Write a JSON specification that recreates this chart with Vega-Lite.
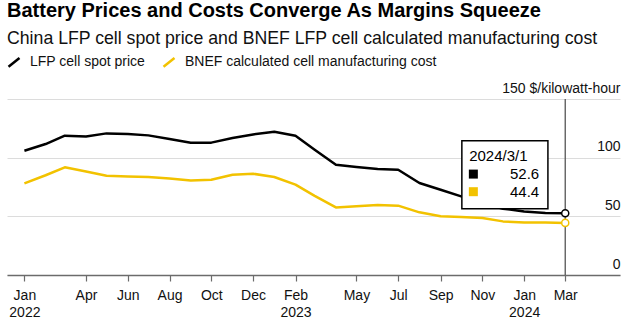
{
  "$schema": "https://vega.github.io/schema/vega-lite/v6.json",
  "width": 613,
  "height": 176,
  "autosize": {"type": "none"},
  "padding": {"left": 7, "top": 99, "right": 10, "bottom": 55},
  "background": "white",
  "title": {
    "text": "Battery Prices and Costs Converge As Margins Squeeze",
    "subtitle": "China LFP cell spot price and BNEF LFP cell calculated manufacturing cost",
    "anchor": "start",
    "frame": "group",
    "font": "Liberation Sans",
    "fontSize": 20,
    "fontWeight": "bold",
    "color": "#000000",
    "subtitleFont": "Liberation Sans",
    "subtitleFontSize": 17.7,
    "subtitleColor": "#111111",
    "subtitlePadding": 9,
    "offset": 7
  },
  "config": {"view": {"stroke": null}, "font": "Liberation Sans"},
  "datasets": {
    "prices": [
      {"date": "2022-01-01", "series": "LFP cell spot price", "value": 105.9},
      {"date": "2022-02-01", "series": "LFP cell spot price", "value": 111.6},
      {"date": "2022-03-01", "series": "LFP cell spot price", "value": 118.7},
      {"date": "2022-04-01", "series": "LFP cell spot price", "value": 118.1},
      {"date": "2022-05-01", "series": "LFP cell spot price", "value": 120.7},
      {"date": "2022-06-01", "series": "LFP cell spot price", "value": 120.2},
      {"date": "2022-07-01", "series": "LFP cell spot price", "value": 119.0},
      {"date": "2022-08-01", "series": "LFP cell spot price", "value": 115.9},
      {"date": "2022-09-01", "series": "LFP cell spot price", "value": 112.8},
      {"date": "2022-10-01", "series": "LFP cell spot price", "value": 112.8},
      {"date": "2022-11-01", "series": "LFP cell spot price", "value": 116.8},
      {"date": "2022-12-01", "series": "LFP cell spot price", "value": 119.8},
      {"date": "2023-01-01", "series": "LFP cell spot price", "value": 122.1},
      {"date": "2023-02-01", "series": "LFP cell spot price", "value": 118.7},
      {"date": "2023-03-01", "series": "LFP cell spot price", "value": 106.8},
      {"date": "2023-04-01", "series": "LFP cell spot price", "value": 94.0},
      {"date": "2023-05-01", "series": "LFP cell spot price", "value": 92.0},
      {"date": "2023-06-01", "series": "LFP cell spot price", "value": 90.3},
      {"date": "2023-07-01", "series": "LFP cell spot price", "value": 89.7},
      {"date": "2023-08-01", "series": "LFP cell spot price", "value": 78.4},
      {"date": "2023-09-01", "series": "LFP cell spot price", "value": 72.7},
      {"date": "2023-10-01", "series": "LFP cell spot price", "value": 67.0},
      {"date": "2023-11-01", "series": "LFP cell spot price", "value": 61.5},
      {"date": "2023-12-01", "series": "LFP cell spot price", "value": 56.5},
      {"date": "2024-01-01", "series": "LFP cell spot price", "value": 54.2},
      {"date": "2024-02-01", "series": "LFP cell spot price", "value": 52.8},
      {"date": "2024-03-01", "series": "LFP cell spot price", "value": 52.6},
      {"date": "2022-01-01", "series": "BNEF calculated cell manufacturing cost", "value": 78.1},
      {"date": "2022-02-01", "series": "BNEF calculated cell manufacturing cost", "value": 85.0},
      {"date": "2022-03-01", "series": "BNEF calculated cell manufacturing cost", "value": 91.8},
      {"date": "2022-04-01", "series": "BNEF calculated cell manufacturing cost", "value": 88.2},
      {"date": "2022-05-01", "series": "BNEF calculated cell manufacturing cost", "value": 84.6},
      {"date": "2022-06-01", "series": "BNEF calculated cell manufacturing cost", "value": 84.0},
      {"date": "2022-07-01", "series": "BNEF calculated cell manufacturing cost", "value": 83.5},
      {"date": "2022-08-01", "series": "BNEF calculated cell manufacturing cost", "value": 82.3},
      {"date": "2022-09-01", "series": "BNEF calculated cell manufacturing cost", "value": 80.6},
      {"date": "2022-10-01", "series": "BNEF calculated cell manufacturing cost", "value": 81.2},
      {"date": "2022-11-01", "series": "BNEF calculated cell manufacturing cost", "value": 85.5},
      {"date": "2022-12-01", "series": "BNEF calculated cell manufacturing cost", "value": 86.3},
      {"date": "2023-01-01", "series": "BNEF calculated cell manufacturing cost", "value": 83.5},
      {"date": "2023-02-01", "series": "BNEF calculated cell manufacturing cost", "value": 77.0},
      {"date": "2023-03-01", "series": "BNEF calculated cell manufacturing cost", "value": 67.5},
      {"date": "2023-04-01", "series": "BNEF calculated cell manufacturing cost", "value": 57.6},
      {"date": "2023-05-01", "series": "BNEF calculated cell manufacturing cost", "value": 58.5},
      {"date": "2023-06-01", "series": "BNEF calculated cell manufacturing cost", "value": 59.7},
      {"date": "2023-07-01", "series": "BNEF calculated cell manufacturing cost", "value": 59.1},
      {"date": "2023-08-01", "series": "BNEF calculated cell manufacturing cost", "value": 53.4},
      {"date": "2023-09-01", "series": "BNEF calculated cell manufacturing cost", "value": 50.0},
      {"date": "2023-10-01", "series": "BNEF calculated cell manufacturing cost", "value": 49.4},
      {"date": "2023-11-01", "series": "BNEF calculated cell manufacturing cost", "value": 48.6},
      {"date": "2023-12-01", "series": "BNEF calculated cell manufacturing cost", "value": 45.7},
      {"date": "2024-01-01", "series": "BNEF calculated cell manufacturing cost", "value": 44.8},
      {"date": "2024-02-01", "series": "BNEF calculated cell manufacturing cost", "value": 44.8},
      {"date": "2024-03-01", "series": "BNEF calculated cell manufacturing cost", "value": 44.4}
    ]
  },
  "data": {"name": "prices"},
  "layer": [
    {
      "mark": {"type": "line", "strokeWidth": 2.5, "strokeJoin": "round"},
      "encoding": {
        "x": {
          "field": "date",
          "type": "temporal",
          "scale": {"domain": [{"year": 2021, "month": 12, "date": 6, "hours": 14}, {"year": 2024, "month": 5, "date": 20}]},
          "axis": {
            "orient": "bottom",
            "title": null,
            "grid": false,
            "values": [
              {"year": 2022, "month": 1, "date": 1},
              {"year": 2022, "month": 4, "date": 1},
              {"year": 2022, "month": 6, "date": 1},
              {"year": 2022, "month": 8, "date": 1},
              {"year": 2022, "month": 10, "date": 1},
              {"year": 2022, "month": 12, "date": 1},
              {"year": 2023, "month": 2, "date": 1},
              {"year": 2023, "month": 5, "date": 1},
              {"year": 2023, "month": 7, "date": 1},
              {"year": 2023, "month": 9, "date": 1},
              {"year": 2023, "month": 11, "date": 1},
              {"year": 2024, "month": 1, "date": 1},
              {"year": 2024, "month": 3, "date": 1}
            ],
            "labelExpr": "(month(datum.value) == 0 || (year(datum.value) == 2023 && month(datum.value) == 1)) ? [timeFormat(datum.value, '%b'), timeFormat(datum.value, '%Y')] : timeFormat(datum.value, '%b')",
            "domainColor": "#6b6b6b",
            "domainWidth": 1.5,
            "tickColor": "#6b6b6b",
            "tickSize": 6,
            "tickWidth": 1.2,
            "labelFont": "Liberation Sans",
            "labelFontSize": 14,
            "labelColor": "#111111",
            "labelPadding": 7,
            "labelLineHeight": 17,
            "labelBaseline": "top",
            "labelAlign": "center",
            "labelOverlap": false,
            "labelBound": false,
            "labelFlush": false
          }
        },
        "y": {
          "field": "value",
          "type": "quantitative",
          "scale": {"domain": [0, 150], "nice": false, "zero": true},
          "axis": {
            "orient": "right",
            "title": null,
            "values": [0, 50, 100, 150],
            "domain": false,
            "ticks": false,
            "tickSize": 0,
            "grid": true,
            "gridColor": "#dcdcdc",
            "gridWidth": 1,
            "labelFont": "Liberation Sans",
            "labelFontSize": 14,
            "labelColor": "#111111",
            "labelAlign": "right",
            "labelBaseline": "alphabetic",
            "labelOffset": -7,
            "labelPadding": 0,
            "labelOverlap": false,
            "labelBound": false,
            "labelFlush": false,
            "labelExpr": "datum.value == 150 ? '150 $/kilowatt-hour' : datum.label"
          }
        },
        "color": {
          "field": "series",
          "type": "nominal",
          "scale": {
            "domain": ["LFP cell spot price", "BNEF calculated cell manufacturing cost"],
            "range": ["#000000", "#f2c200"]
          },
          "legend": {
            "title": null,
            "orient": "none",
            "legendX": 0,
            "legendY": -44,
            "direction": "horizontal",
            "padding": 0,
            "symbolType": "M-1,0.8L1,-0.8",
            "symbolSize": 121,
            "symbolStrokeWidth": 2.5,
            "labelFont": "Liberation Sans",
            "labelFontSize": 14,
            "labelColor": "#111111",
            "labelOffset": 9,
            "labelLimit": 0,
            "columnPadding": 12
          }
        }
      }
    },
    {
      "data": {"values": [{}]},
      "mark": {"type": "rule", "color": "#555555", "strokeWidth": 1.3},
      "encoding": {
        "x": {"datum": {"year": 2024, "month": 3, "date": 1}, "type": "temporal"},
        "y": {"datum": 150, "type": "quantitative"},
        "y2": {"datum": 0}
      }
    },
    {
      "transform": [{"filter": "year(datum.date) == 2024 && month(datum.date) == 2"}],
      "mark": {"type": "point", "filled": false, "fill": "white", "fillOpacity": 1, "strokeWidth": 1.5, "size": 50, "opacity": 1},
      "encoding": {
        "x": {"field": "date", "type": "temporal"},
        "y": {"field": "value", "type": "quantitative"},
        "color": {"field": "series", "type": "nominal", "legend": null}
      }
    },
    {
      "data": {"values": [{}]},
      "mark": {"type": "rect", "fill": "white", "stroke": "#000000", "strokeWidth": 1.5},
      "encoding": {
        "x": {"datum": {"year": 2023, "month": 10, "date": 2}, "type": "temporal"},
        "x2": {"datum": {"year": 2024, "month": 2, "date": 4, "hours": 17}},
        "y": {"datum": 114.5, "type": "quantitative"},
        "y2": {"datum": 56.5}
      }
    },
    {
      "transform": [{"filter": "year(datum.date) == 2024 && month(datum.date) == 2 && datum.series == 'LFP cell spot price'"}],
      "mark": {"type": "text", "align": "left", "baseline": "middle", "fontSize": 15, "font": "Liberation Sans", "color": "#000000"},
      "encoding": {
        "x": {"datum": {"year": 2023, "month": 10, "date": 12, "hours": 17}, "type": "temporal"},
        "y": {"datum": 101.7, "type": "quantitative"},
        "text": {"field": "date", "type": "temporal", "format": "%Y/%-m/%-d"}
      }
    },
    {
      "transform": [{"filter": "year(datum.date) == 2024 && month(datum.date) == 2 && datum.series == 'LFP cell spot price'"}],
      "mark": {"type": "text", "align": "right", "baseline": "middle", "fontSize": 15, "font": "Liberation Sans", "color": "#000000"},
      "encoding": {
        "x": {"datum": {"year": 2024, "month": 1, "date": 23}, "type": "temporal"},
        "y": {"datum": 86.0, "type": "quantitative"},
        "text": {"field": "value", "type": "quantitative", "format": ".1f"}
      }
    },
    {
      "transform": [{"filter": "year(datum.date) == 2024 && month(datum.date) == 2 && datum.series == 'BNEF calculated cell manufacturing cost'"}],
      "mark": {"type": "text", "align": "right", "baseline": "middle", "fontSize": 15, "font": "Liberation Sans", "color": "#000000"},
      "encoding": {
        "x": {"datum": {"year": 2024, "month": 1, "date": 23}, "type": "temporal"},
        "y": {"datum": 71.0, "type": "quantitative"},
        "text": {"field": "value", "type": "quantitative", "format": ".1f"}
      }
    },
    {
      "data": {"values": [{}]},
      "mark": {"type": "square", "filled": true, "size": 81, "color": "#000000", "opacity": 1},
      "encoding": {
        "x": {"datum": {"year": 2023, "month": 10, "date": 18, "hours": 19}, "type": "temporal"},
        "y": {"datum": 86.0, "type": "quantitative"}
      }
    },
    {
      "data": {"values": [{}]},
      "mark": {"type": "square", "filled": true, "size": 81, "color": "#f2c200", "opacity": 1},
      "encoding": {
        "x": {"datum": {"year": 2023, "month": 10, "date": 18, "hours": 19}, "type": "temporal"},
        "y": {"datum": 71.0, "type": "quantitative"}
      }
    }
  ]
}
